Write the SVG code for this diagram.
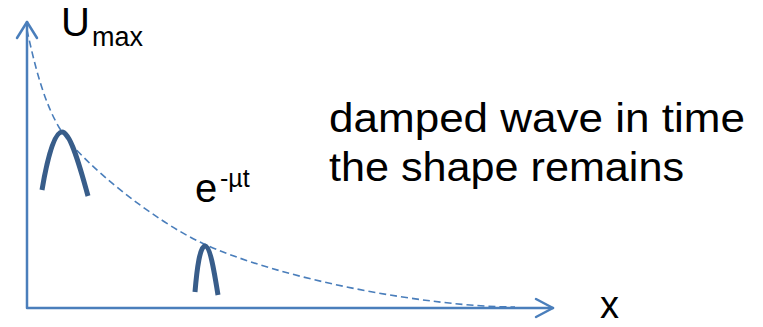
<svg xmlns="http://www.w3.org/2000/svg" width="763" height="327" viewBox="0 0 763 327">
<style>
.axis{fill:none;stroke:#4A7EBB;stroke-width:2.5;stroke-linecap:round;stroke-linejoin:round}
.decay{fill:none;stroke:#4A7EBB;stroke-width:1.6;stroke-dasharray:7 4}
.pulse{fill:none;stroke:#385D8A;stroke-width:5;stroke-linecap:butt;stroke-linejoin:round}
text{font-family:"Liberation Sans",Arial,sans-serif;fill:#000}
</style>
<rect width="763" height="327" fill="#fff"/>
<g id="connectors">
<path class="decay" d="M27,30 C34,62 44,105 62,132 C84,165 155,221 200,242 C280,280 430,307 515,307"/>
</g>
<g id="axes">
<polyline class="axis" points="27,22 27,308 553,308"/>
<polyline class="axis" points="17,38 27,22 37,38"/>
<polyline class="axis" points="536,299 553,308 536,317"/>
</g>
<g id="pulse1">
<path class="pulse" d="M42,190 C47,160 54,132 62,132 C70,132 79,163 88,196"/>
</g>
<g id="pulse2">
<path class="pulse" d="M195,292 C197,268 200,246 205,246 C210,246 214,270 218,295"/>
</g>
<g id="label-umax">
<text x="61" y="36" font-size="40">U</text>
<text x="92" y="46" font-size="27">max</text>
</g>
<g id="label-exp">
<text x="195" y="202" font-size="40">e</text>
<text x="220" y="187" font-size="25">-µt</text>
</g>
<g id="label-x">
<text x="600" y="318" font-size="38">x</text>
</g>
<g id="caption">
<text x="329" y="132" font-size="40" textLength="416" lengthAdjust="spacingAndGlyphs">damped wave in time</text>
<text x="329" y="181" font-size="40" textLength="355" lengthAdjust="spacingAndGlyphs">the shape remains</text>
</g>
</svg>
